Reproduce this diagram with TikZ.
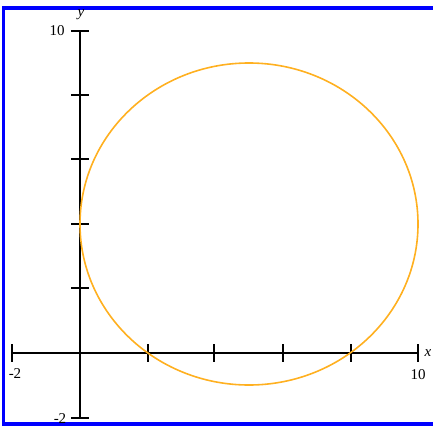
\documentclass[tikz,border=0pt]{standalone}
\usepackage{fontspec}
\setmainfont{Liberation Serif}
\definecolor{curve}{RGB}{255,176,32}
\definecolor{frame}{RGB}{0,0,255}
\begin{document}
\begin{tikzpicture}[x=1pt,y=-1pt,
  axis/.style={line width=2pt,black},
  tick/.style={line width=2pt,black},
  lbl/.style={font=\fontsize{15}{15}\selectfont,inner sep=1pt}]
\useasboundingbox (0,0) rectangle (433,428);
\draw[frame,line width=3.5pt] (440,8) -- (3.5,8) -- (3.5,424) -- (440,424);
% axes
\coordinate (xl) at (12,353);
\coordinate (xr) at (418,353);
\coordinate (yt) at (80,31);
\coordinate (yb) at (80,418);
\draw[axis] (xl) -- (xr);
\draw[axis] (yt) -- (yb);
% x ticks
\foreach \px in {12,148,214,283,351,418}
  \draw[tick] (\px,344) -- (\px,362);
% y ticks
\foreach \py in {95,159,224,288}
  \draw[tick] (71,\py) -- (89,\py);
\draw[tick] (71,31) -- (89,31);
\draw[tick] (71,418) -- (89,418);
% labels
\node[lbl] (ylab) at (81,15) {\itshape y};
\node[lbl] (y10) at (57,31) {10};
\node[lbl] (ym2) at (60,419) {-2};
\node[lbl] (xm2) at (15,374) {-2};
\node[lbl] (x10) at (418,375) {10};
\node[lbl] (xlab) at (428,353) {\itshape x};
% circle
\draw[curve,line width=1.6pt] (249,224) ellipse [x radius=169, y radius=161];
\end{tikzpicture}
\end{document}
